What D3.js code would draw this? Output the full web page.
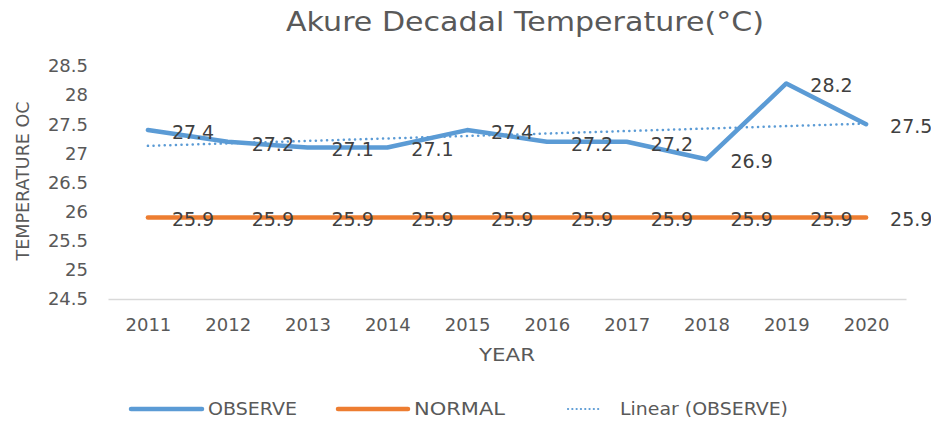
<!DOCTYPE html>
<html>
<head>
<meta charset="utf-8">
<script src="https://cdn.jsdelivr.net/npm/d3@7"></script>
<style>
    body { margin: 0; background: #fff; }
    text { font-family: 'DejaVu Sans', sans-serif; fill: #595959; }
</style>
</head>
<body>
<svg id="chart" width="931" height="421"></svg>
<script>
// chart data
const years = ['2011', '2012', '2013', '2014', '2015', '2016', '2017', '2018', '2019', '2020'];
const observe = [27.4, 27.2, 27.1, 27.1, 27.4, 27.2, 27.2, 26.9, 28.2, 27.5];
const normal = [25.9, 25.9, 25.9, 25.9, 25.9, 25.9, 25.9, 25.9, 25.9, 25.9];
const yTicks = [24.5, 25, 25.5, 26, 26.5, 27, 27.5, 28, 28.5];

const FONT = "'DejaVu Sans', sans-serif";
const svg = d3.select('#chart');
const margin = { top: 66, right: 25, bottom: 122, left: 108 };
const width = 931 - margin.left - margin.right;
const height = 421 - margin.top - margin.bottom;

const x = d3.scalePoint()
    .domain(years)
    .range([0, width])
    .padding(0.5);

const y = d3.scaleLinear()
    .domain([24.5, 28.5])
    .range([height, 0]);

const g = svg.append('g')
    .attr('transform', `translate(${margin.left},${margin.top})`);

// title
svg.append('text')
    .attr('x', 525)
    .attr('y', 31)
    .attr('text-anchor', 'middle')
    .attr('textLength', 478)
    .attr('lengthAdjust', 'spacingAndGlyphs')
    .style('font-size', '27px')
    .text('Akure Decadal Temperature(°C)');

// y axis (labels only)
const yAxis = g.append('g')
    .call(d3.axisLeft(y).tickValues(yTicks).tickSize(0).tickPadding(20).tickFormat(d => d));
yAxis.select('.domain').remove();
yAxis.selectAll('text')
    .style('font-size', '18px')
    .style('font-family', FONT)
    .attr('fill', '#595959');

// x axis
const xAxis = g.append('g')
    .attr('transform', `translate(0,${height})`)
    .call(d3.axisBottom(x).tickSize(0).tickPadding(19));
xAxis.select('.domain').attr('stroke', '#d9d9d9').attr('stroke-width', 1.5);
xAxis.selectAll('text')
    .style('font-size', '18px')
    .style('font-family', FONT)
    .attr('fill', '#595959');

// axis titles
svg.append('text')
    .attr('x', margin.left + width / 2)
    .attr('y', 361)
    .attr('text-anchor', 'middle')
    .attr('textLength', 56)
    .attr('lengthAdjust', 'spacingAndGlyphs')
    .style('font-size', '18px')
    .text('YEAR');

svg.append('text')
    .attr('transform', 'translate(29,181) rotate(-90)')
    .attr('text-anchor', 'middle')
    .style('font-size', '17.5px')
    .text('TEMPERATURE OC');

// linear trend of observe
const xs = years.map((d, i) => i + 1);
const mx = d3.mean(xs);
const my = d3.mean(observe);
const slope = d3.sum(xs, (v, i) => (v - mx) * (observe[i] - my)) / d3.sum(xs, v => (v - mx) ** 2);
const trend = xs.map(v => my + slope * (v - mx));

const line = d3.line()
    .x((d, i) => x(years[i]))
    .y(d => y(d));

g.append('path')
    .datum(normal)
    .attr('d', line)
    .attr('fill', 'none')
    .attr('stroke', '#ED7D31')
    .attr('stroke-width', 4.5)
    .attr('stroke-linecap', 'round');

g.append('path')
    .datum(observe)
    .attr('d', line)
    .attr('fill', 'none')
    .attr('stroke', '#5B9BD5')
    .attr('stroke-width', 4.5)
    .attr('stroke-linecap', 'round')
    .attr('stroke-linejoin', 'round');

g.append('path')
    .datum(trend)
    .attr('d', line)
    .attr('fill', 'none')
    .attr('stroke', '#5B9BD5')
    .attr('stroke-width', 2.5)
    .attr('stroke-dasharray', '0.1,5.5')
    .attr('stroke-linecap', 'round');

// data labels
function labels(values, cls) {
    g.selectAll('.' + cls)
        .data(values)
        .enter().append('text')
        .attr('class', cls)
        .attr('x', (d, i) => x(years[i]) + 24)
        .attr('y', d => y(d) + 2)
        .attr('dy', '0.36em')
        .style('font-size', '19px')
        .style('fill', '#404040')
        .text(d => d.toFixed(1));
}
labels(observe, 'lab-obs');
labels(normal, 'lab-norm');

// legend
const legendItems = [
    { name: 'OBSERVE', color: '#5B9BD5', x: 131, len: 71, dash: null, w: 4.5, gap: 6, tl: 89 },
    { name: 'NORMAL', color: '#ED7D31', x: 338, len: 70, dash: null, w: 4.5, gap: 6, tl: 91 },
    { name: 'Linear (OBSERVE)', color: '#5B9BD5', x: 568, len: 34, dash: '0.1,4.2', w: 2.2, gap: 18, tl: 168 }
];
const legend = svg.append('g');
legendItems.forEach(item => {
    legend.append('line')
        .attr('x1', item.x)
        .attr('x2', item.x + item.len)
        .attr('y1', 409)
        .attr('y2', 409)
        .attr('stroke', item.color)
        .attr('stroke-width', item.w)
        .attr('stroke-linecap', 'round')
        .attr('stroke-dasharray', item.dash);
    legend.append('text')
        .attr('x', item.x + item.len + item.gap)
        .attr('y', 409)
        .attr('dy', '0.36em')
        .attr('textLength', item.tl)
        .attr('lengthAdjust', 'spacingAndGlyphs')
        .style('font-size', '18px')
        .text(item.name);
});
</script>
</body>
</html>
